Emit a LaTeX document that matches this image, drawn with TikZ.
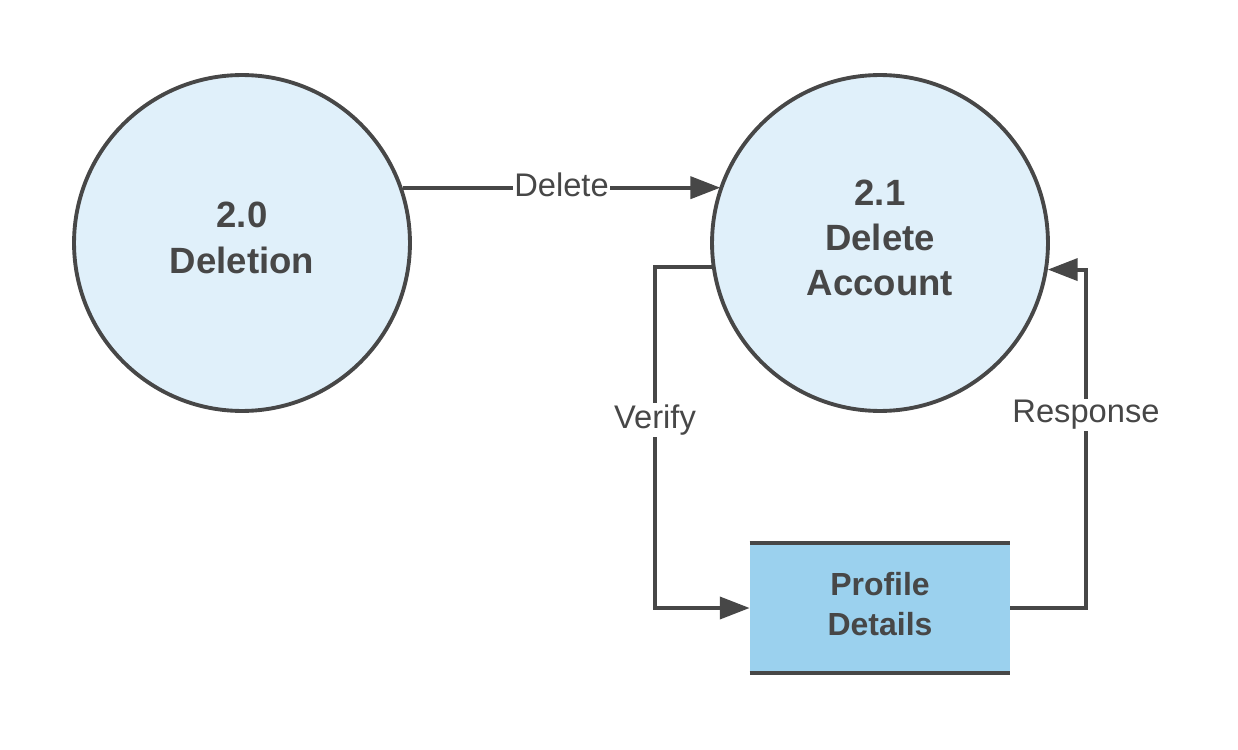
\documentclass[tikz,border=0pt]{standalone}
\usepackage{fontspec}
\setmainfont{Liberation Sans}
\usepackage{tikz}
\usetikzlibrary{arrows.meta, positioning, shapes}
\definecolor{inkgray}{HTML}{474747}
\definecolor{procblue}{HTML}{E0F0FA}
\definecolor{storeblue}{HTML}{9BD1EE}
\tikzset{
        x=0.02cm, y=-0.02cm, % one unit is one pixel of the layout
        every node/.style={text=inkgray, align=center},
        process/.style={circle, draw=inkgray, line width=2.2pt, fill=procblue, minimum size=6.72cm}, % the round process bubbles
        proctext/.style={font=\fontsize{20.8}{25.8}\selectfont\bfseries, yshift=2.8pt},
        datastore/.style={rectangle, fill=storeblue, minimum width=5.2cm, minimum height=2.6cm}, % sets the data store box
        storetext/.style={font=\fontsize{18.2}{23}\selectfont\bfseries, yshift=2.3pt},
        storeline/.style={draw=inkgray, line width=2.2pt},
        flow/.style={draw=inkgray, line width=2.2pt, -{Triangle[length=17pt, width=12.5pt]}},
        flowlabel/.style={fill=white, inner sep=1pt, font=\fontsize{18.6}{22}\selectfont},
    }
\begin{document}
\begin{tikzpicture}
    \useasboundingbox (0,0) rectangle (1238,750);
    \node[process, label={[proctext]center:{2.0\\Deletion}}] (deletion) at (242,243) {};
    \node[process, label={[proctext]center:{2.1\\Delete\\Account}}] (delacc) at (880,243) {};
    \node[datastore, label={[storetext]center:{Profile\\Details}}] (profile) at (880,608) {};
    \draw[storeline] (profile.north west) -- (profile.north east);
    \draw[storeline] (profile.south west) -- (profile.south east);
    \coordinate (vbend) at (655,268);
    \coordinate (rbend) at (1086,268);
    % flows between the processes and the store
    \draw[flow] (deletion.19.8) -- node[flowlabel, yshift=1.5pt]{Delete} (deletion.19.8 -| delacc.160.2);
    \draw[flow] (delacc.188.5) -- (delacc.188.5 -| vbend) -- node[flowlabel, pos=0.45]{Verify} (vbend |- profile.west) -- (profile.west);
    \draw[flow] (profile.east) -- (profile.east -| rbend) -- node[flowlabel, pos=0.57]{Response} (rbend |- delacc.351.5) -- (delacc.351.5);
\end{tikzpicture}
\end{document}
